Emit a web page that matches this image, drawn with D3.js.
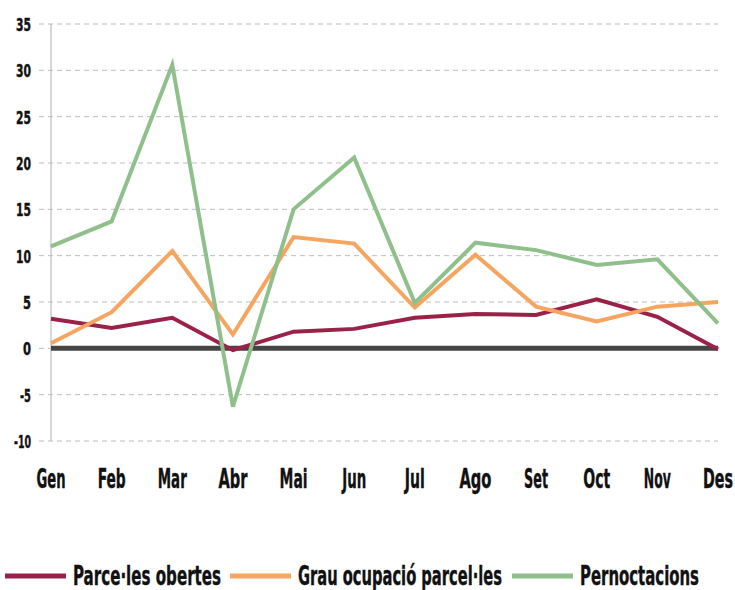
<!DOCTYPE html>
<html>
<head>
<meta charset="utf-8">
<script src="https://cdn.jsdelivr.net/npm/d3@7"></script>
<style>
  body { margin: 0; background: #fff; }
  text { font-family: "Liberation Sans Narrow", "DejaVu Sans Condensed", sans-serif; font-weight: bold; fill: #111; stroke: #111; stroke-width: 0.4px; }
</style>
</head>
<body>
<div id="chart"></div>
<script>
(function() {

  var months = ['Gen', 'Feb', 'Mar', 'Abr', 'Mai', 'Jun', 'Jul', 'Ago', 'Set', 'Oct', 'Nov', 'Des'];

  var parceles = [3.2, 2.2, 3.3, -0.2, 1.8, 2.1, 3.3, 3.7, 3.6, 5.3, 3.4, -0.1];
  var grau = [0.55, 3.9, 10.5, 1.5, 12.0, 11.3, 4.4, 10.1, 4.5, 2.9, 4.5, 5.0];
  var pernoctacions = [11.0, 13.7, 30.6, -6.3, 15.0, 20.6, 4.9, 11.4, 10.6, 9.0, 9.6, 2.7];

  var seriesNames = ['Parce·les obertes', 'Grau ocupació parcel·les', 'Pernoctacions'];
  var yTicks = [-10, -5, 0, 5, 10, 15, 20, 25, 30, 35];

  var colors = ['#9a2249', '#f5a55f', '#8fbf8b'];

  var width = 735, height = 590;
  var left = 51, right = 718, top = 24, bottom = 441;

  // rendered widths of the condensed labels in the original
  var monthW = [29, 28, 29, 29, 28, 24, 20, 32, 24, 27, 27, 30];

  var svg = d3.select('#chart')
    .append('svg')
    .attr('width', width)
    .attr('height', height);

  var x = d3.scalePoint()
    .domain(months)
    .range([left, right]);

  var y = d3.scaleLinear()
    .domain([-10, 35])
    .range([bottom, top]);

  // dashed grid, extends left of the axis like a tick
  svg.selectAll('line.grid')
    .data(yTicks)
    .enter()
    .append('line')
    .attr('class', 'grid')
    .attr('x1', left - 12)
    .attr('x2', right)
    .attr('y1', function(d) { return y(d); })
    .attr('y2', function(d) { return y(d); })
    .attr('stroke', '#bdbdbd')
    .attr('stroke-width', 1)
    .attr('stroke-dasharray', '5,4');

  svg.append('line')
    .attr('x1', left).attr('x2', left)
    .attr('y1', top).attr('y2', bottom)
    .attr('stroke', '#bdbdbd')
    .attr('stroke-width', 1.2);

  svg.selectAll('text.ytick')
    .data(yTicks)
    .enter()
    .append('text')
    .attr('class', 'ytick')
    .attr('x', 31)
    .attr('y', function(d) { return y(d) + 7; })
    .attr('text-anchor', 'end')
    .style('font-size', '17px')
    .attr('textLength', function(d) {
      if (d === -10) return 17;
      if (d < 0) return 11;
      return String(d).length > 1 ? 15 : 8;
    })
    .attr('lengthAdjust', 'spacingAndGlyphs')
    .text(function(d) { return d; });

  svg.selectAll('text.xtick')
    .data(months)
    .enter()
    .append('text')
    .attr('class', 'xtick')
    .attr('x', function(d, i) {
      var cx = x(d);
      return i === months.length - 1 ? 703 + monthW[i] / 2 : cx;
    })
    .attr('y', 488)
    .attr('text-anchor', 'middle')
    .style('font-size', '27px')
    .attr('textLength', function(d, i) { return monthW[i]; })
    .attr('lengthAdjust', 'spacingAndGlyphs')
    .text(function(d) { return d; });

  // zero line
  svg.append('line')
    .attr('x1', left).attr('x2', right)
    .attr('y1', y(0)).attr('y2', y(0))
    .attr('stroke', '#444')
    .attr('stroke-width', 5);

  var line = d3.line()
    .x(function(d, i) { return x(months[i]); })
    .y(function(d) { return y(d); });

  [parceles, grau, pernoctacions].forEach(function(values, i) {
    svg.append('path')
      .datum(values)
      .attr('d', line)
      .attr('fill', 'none')
      .attr('stroke', colors[i])
      .attr('stroke-width', 4)
      .attr('stroke-linejoin', 'miter');
  });

  // legend
  var legendX = [5, 230, 512],
      legendW = [148, 204, 119];

  seriesNames.forEach(function(name, i) {
    var g = svg.append('g').attr('transform', 'translate(' + legendX[i] + ',576)');
    g.append('line')
      .attr('x1', 0).attr('x2', 61)
      .attr('stroke', colors[i])
      .attr('stroke-width', 5);
    g.append('text')
      .attr('x', 68)
      .attr('y', 9)
      .style('font-size', '27px')
      .attr('textLength', legendW[i])
      .attr('lengthAdjust', 'spacingAndGlyphs')
      .text(name);
  });

})();
</script>
</body>
</html>
